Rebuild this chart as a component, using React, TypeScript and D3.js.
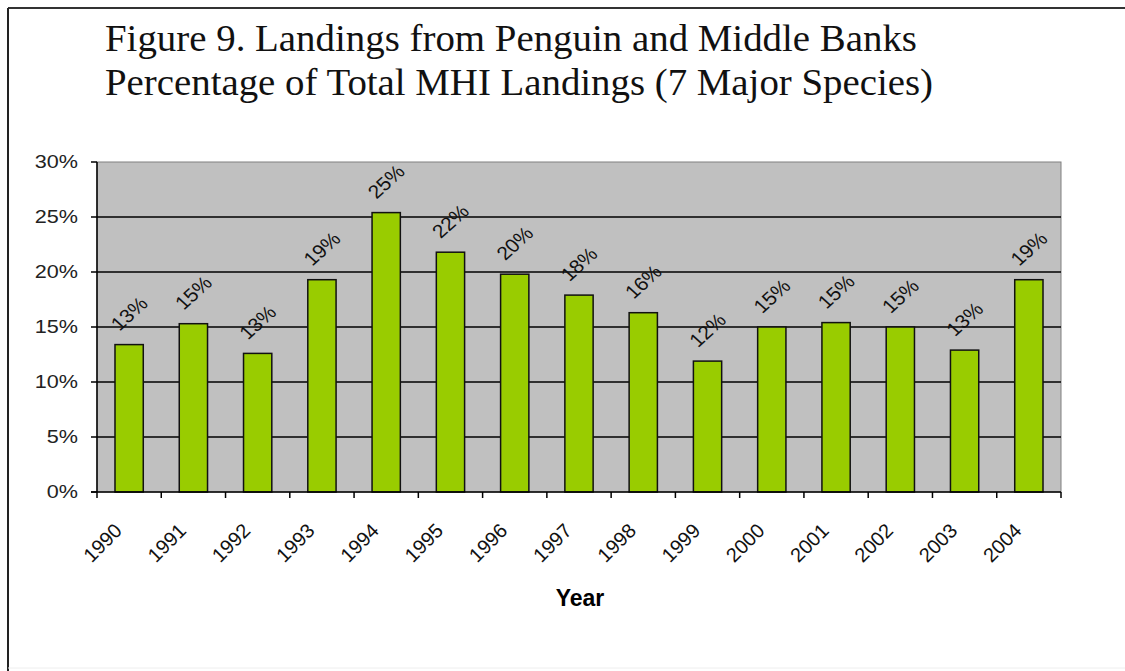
import React from "react";
import * as d3 from "d3";

const titleLines = [
  "Figure 9. Landings from Penguin and Middle Banks",
  "Percentage of Total MHI Landings (7 Major Species)",
];
const years = ["1990","1991","1992","1993","1994","1995","1996","1997","1998","1999","2000","2001","2002","2003","2004"];
const percentValues = [13.4, 15.3, 12.6, 19.3, 25.4, 21.8, 19.8, 17.9, 16.3, 11.9, 15.0, 15.4, 15.0, 12.9, 19.3];
const yTicks = [0, 5, 10, 15, 20, 25, 30];
const xAxisTitle = "Year";

const W = 1125;
const H = 671;
const plot = { left: 97, right: 1061, top: 162, bottom: 492 };

export default function App() {
  const x = d3
    .scaleBand<string>()
    .domain(years)
    .range([plot.left, plot.right])
    .paddingInner(0.56)
    .paddingOuter(0.28);
  const step = x.step();
  const y = d3.scaleLinear().domain([0, 30]).range([plot.bottom, plot.top]);
  const fmt = (v: number) => `${Math.round(v)}%`;

  return (
    <svg
      width={W}
      height={H}
      style={{ position: "absolute", left: 0, top: 0, background: "#fff" }}
      fontFamily="Arial, 'Liberation Sans', sans-serif"
    >
      {/* outer frame */}
      <line x1={8} y1={8} x2={W} y2={8} stroke="#333" strokeWidth={2} />
      <line x1={8} y1={8} x2={8} y2={H} stroke="#222" strokeWidth={2} />
      <line x1={8} y1={668} x2={W} y2={668} stroke="#eee" strokeWidth={1} />

      {/* title */}
      <text
        x={105}
        y={51}
        fontFamily="'Liberation Serif', 'Times New Roman', serif"
        fontSize={37}
        fill="#111"
        textLength={812}
        lengthAdjust="spacingAndGlyphs"
      >
        {titleLines[0]}
      </text>
      <text
        x={105}
        y={95}
        fontFamily="'Liberation Serif', 'Times New Roman', serif"
        fontSize={37}
        fill="#111"
        textLength={828}
        lengthAdjust="spacingAndGlyphs"
      >
        {titleLines[1]}
      </text>

      {/* plot area */}
      <rect
        x={plot.left}
        y={plot.top}
        width={plot.right - plot.left}
        height={plot.bottom - plot.top}
        fill="#C0C0C0"
        stroke="#808080"
        strokeWidth={1}
      />

      {/* gridlines */}
      {yTicks
        .filter((t) => t > 0 && t < 30)
        .map((t) => (
          <line
            key={`g${t}`}
            x1={plot.left}
            x2={plot.right}
            y1={y(t)}
            y2={y(t)}
            stroke="#000"
            strokeWidth={1.3}
          />
        ))}

      {/* bars */}
      {percentValues.map((v, i) => (
        <rect
          key={`b${i}`}
          x={x(years[i])!}
          y={y(v)}
          width={x.bandwidth()}
          height={y(0) - y(v)}
          fill="#99CC00"
          stroke="#111"
          strokeWidth={1.5}
        />
      ))}

      {/* data labels */}
      {percentValues.map((v, i) => {
        const cx = x(years[i])! + x.bandwidth() / 2;
        const cy = y(v) - 31;
        return (
          <text
            key={`l${i}`}
            transform={`translate(${cx},${cy}) scale(1.1,1) rotate(-45)`}
            textAnchor="middle"
            dominantBaseline="central"
            fontSize={19}
            fill="#111"
          >
            {fmt(v)}
          </text>
        );
      })}

      {/* y axis */}
      <line x1={plot.left} x2={plot.left} y1={plot.top} y2={plot.bottom} stroke="#000" strokeWidth={1.5} />
      {yTicks.map((t) => (
        <g key={`yt${t}`}>
          <line x1={plot.left - 6} x2={plot.left} y1={y(t)} y2={y(t)} stroke="#000" strokeWidth={1.5} />
          <text
            transform={`translate(78,${y(t)}) scale(1.2,1)`}
            textAnchor="end"
            dominantBaseline="central"
            fontSize={18}
            fill="#222"
          >
            {`${t}%`}
          </text>
        </g>
      ))}

      {/* x axis */}
      <line x1={plot.left - 6} x2={plot.right} y1={plot.bottom} y2={plot.bottom} stroke="#000" strokeWidth={1.5} />
      {d3.range(years.length + 1).map((i) => {
        const tx = plot.left + i * step;
        return (
          <line key={`xt${i}`} x1={tx} x2={tx} y1={plot.bottom} y2={plot.bottom + 6} stroke="#000" strokeWidth={1.5} />
        );
      })}
      {years.map((yr) => {
        const ax = x(yr)! + x.bandwidth() / 2 - 6;
        const ay = 532;
        return (
          <text
            key={`xl${yr}`}
            transform={`translate(${ax},${ay}) rotate(-45)`}
            textAnchor="end"
            fontSize={20}
            fill="#111"
          >
            {yr}
          </text>
        );
      })}

      <text
        x={(plot.left + plot.right) / 2 + 1}
        y={606}
        textAnchor="middle"
        fontSize={23}
        fontWeight="bold"
        fill="#000"
      >
        {xAxisTitle}
      </text>
    </svg>
  );
}
